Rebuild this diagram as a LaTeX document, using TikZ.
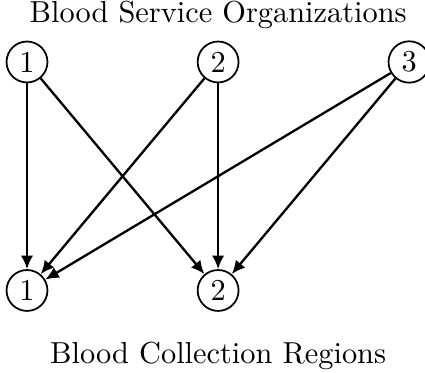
\documentclass[tikz,border=0pt]{standalone}
\usetikzlibrary{arrows.meta}
\begin{document}
\begin{tikzpicture}[font=\fontsize{10.4}{12.5}\selectfont]
    \def \dx{2.3}
    \def \dy{2.75}

    \tikzset{
      site/.style={draw, circle, semithick, inner sep=1.9pt},
      flow/.style={-{Latex[length=4.6pt,width=4.2pt]}, line width=0.8pt, color=black}
    }

    \useasboundingbox (-0.325,0.746) rectangle (4.79,-3.74);

    \node[anchor=base] (orgtitle) at (\dx,0.47) {Blood Service Organizations};
    \foreach \i in {1,2,3}{ \node[site] (org\i) at ({(\i-1)*\dx},0) {\i}; }%
    \foreach \j in {1,2}{ \node[site] (reg\j) at ({(\j-1)*\dx},-\dy) {\j}; }%
    \node[anchor=base] (regtitle) at (\dx,{-\dy-0.88}) {Blood Collection Regions};

    \foreach \i in {1,2,3}{
      \foreach \j in {1,2}{ \draw[flow] (org\i) -- (reg\j); }%
    }
\end{tikzpicture}
\end{document}
